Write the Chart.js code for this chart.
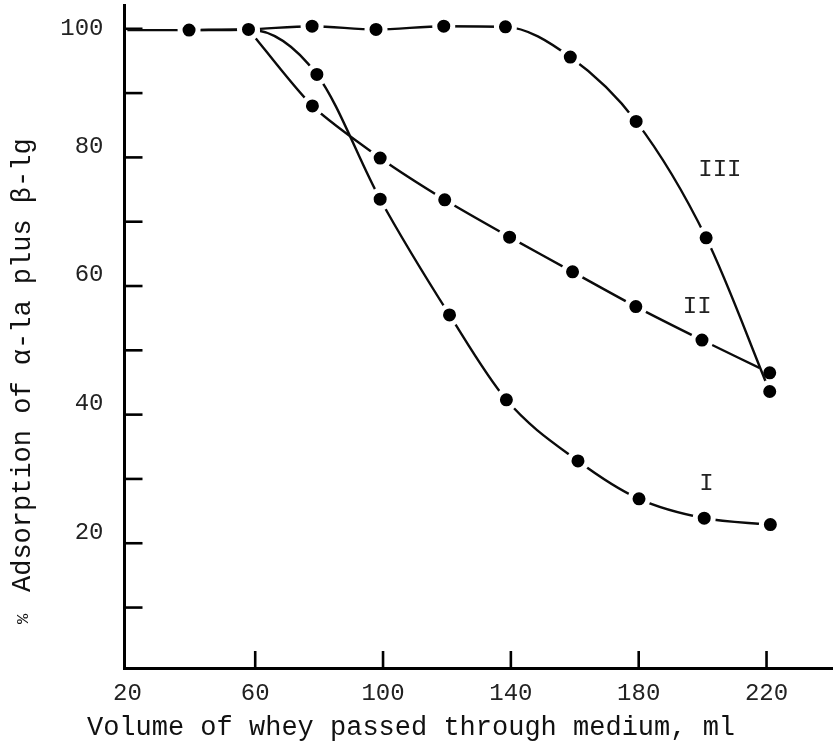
<!DOCTYPE html>
<html>
<head>
<meta charset="utf-8">
<script src="https://cdn.jsdelivr.net/npm/chart.js@4.4.1/dist/chart.umd.min.js"></script>
<style>
html,body{margin:0;padding:0;background:#fff;overflow:hidden}
#wrap{width:833px;height:751px}
</style>
</head>
<body>
<div id="wrap"><canvas id="c" width="833" height="751"></canvas></div>
<script>
// ---- data ----
const volumeI       = [39.3, 57.9, 79.3, 99.1, 120.8, 138.6, 161.0, 180.1, 200.5, 221.2];
const adsorptionI   = [99.8, 99.9, 92.9, 73.5, 55.5, 42.3, 32.8, 26.9, 23.9, 22.9];
const volumeII      = [57.9, 77.9, 99.1, 119.3, 139.6, 159.3, 179.1, 199.8, 221.0];
const adsorptionII  = [99.9, 88.0, 79.9, 73.4, 67.6, 62.2, 56.8, 51.6, 46.5];
const volumeIII     = [20, 39.3, 57.9, 77.8, 97.8, 119.0, 138.3, 158.6, 179.2, 201.1, 221.0];
const adsorptionIII = [99.8, 99.8, 99.9, 100.4, 99.9, 100.4, 100.3, 95.6, 85.6, 67.5, 43.6];

const xTickValues  = [20, 60, 100, 140, 180, 220];
const yTickValues  = [10, 20, 30, 40, 50, 60, 70, 80, 90, 100];
const yLabelValues = [20, 40, 60, 80, 100];

const seriesNames  = ['I', 'II', 'III'];
const seriesLabelX = [201.2, 198.3, 205.4];
const seriesLabelY = [29.3, 56.8, 78.1];

const xTitle = 'Volume of whey passed through medium, ml';
const yTitle = 'Adsorption of \u03b1-la plus \u03b2-lg';
const yTitlePrefix = '%';

// ---- helpers ----
const pts = (xs, ys) => xs.map((v, i) => ({x: v, y: ys[i]}));
const MONO = '"Liberation Mono", "DejaVu Sans Mono", monospace';
const INK = '#0b0b0b';
const R = 9;

const lineStyle = {
  borderColor: INK,
  borderWidth: 2.4,
  pointBackgroundColor: '#000',
  pointBorderColor: '#fff',
  pointBorderWidth: 5,
  fill: false
};

const annotations = {
  id: 'annotations',
  beforeDatasetsDraw(chart) {
    const {ctx, chartArea: a, scales: {x, y}} = chart;
    ctx.save();
    ctx.strokeStyle = '#000';
    ctx.lineWidth = 2.6;
    yTickValues.forEach(v => {
      const p = y.getPixelForValue(v);
      ctx.beginPath(); ctx.moveTo(a.left, p); ctx.lineTo(a.left + 18, p); ctx.stroke();
    });
    xTickValues.forEach(v => {
      if (v <= xTickValues[0]) return;
      const p = x.getPixelForValue(v);
      ctx.beginPath(); ctx.moveTo(p, a.bottom); ctx.lineTo(p, a.bottom - 17); ctx.stroke();
    });
    ctx.restore();
  },
  afterDraw(chart) {
    const {ctx, scales: {x, y}} = chart;
    ctx.save();
    ctx.fillStyle = '#222';
    ctx.font = '24px ' + MONO;
    ctx.textAlign = 'center';
    ctx.textBaseline = 'middle';
    seriesNames.forEach((n, i) => {
      ctx.fillText(n, x.getPixelForValue(seriesLabelX[i]), y.getPixelForValue(seriesLabelY[i]));
    });
    // x axis title
    ctx.fillStyle = '#111';
    ctx.font = '27px ' + MONO;
    ctx.textAlign = 'center';
    ctx.textBaseline = 'alphabetic';
    ctx.fillText(xTitle, 411, 735);
    // y axis title (rotated)
    ctx.save();
    ctx.translate(29.5, 592);
    ctx.rotate(-Math.PI / 2);
    ctx.textAlign = 'left';
    ctx.fillText(yTitle, 0, 0);
    ctx.restore();
    ctx.save();
    ctx.translate(28, 624);
    ctx.rotate(-Math.PI / 2);
    ctx.font = '17px ' + MONO;
    ctx.textAlign = 'left';
    ctx.fillText(yTitlePrefix, 0, 0);
    ctx.restore();
    ctx.restore();
  }
};

new Chart(document.getElementById('c'), {
  type: 'line',
  data: {
    datasets: [
      Object.assign({
        label: seriesNames[2],
        data: pts(volumeIII, adsorptionIII),
        cubicInterpolationMode: 'monotone',
        pointRadius: volumeIII.map((v, i) => i === 0 ? 0 : R)
      }, lineStyle),
      Object.assign({
        label: seriesNames[1],
        data: pts(volumeII, adsorptionII),
        tension: 0.25,
        pointRadius: R
      }, lineStyle),
      Object.assign({
        label: seriesNames[0],
        data: pts(volumeI, adsorptionI),
        cubicInterpolationMode: 'monotone',
        pointRadius: R
      }, lineStyle)
    ]
  },
  options: {
    responsive: false,
    animation: false,
    events: [],
    devicePixelRatio: 1,
    layout: {autoPadding: false, padding: {top: 5, right: 0, bottom: 0, left: 0}},
    plugins: {legend: {display: false}, tooltip: {enabled: false}, title: {display: false}},
    scales: {
      x: {
        type: 'linear',
        min: 19.1,
        max: 240.8,
        afterFit: s => { s.height = 83; s.paddingLeft = 0; s.paddingRight = 0; s.paddingTop = 0; s.paddingBottom = 0; },
        afterBuildTicks: s => { s.ticks = xTickValues.map(v => ({value: v})); },
        grid: {display: false, drawTicks: false},
        border: {display: true, color: '#000', width: 3},
        ticks: {
          autoSkip: false,
          maxRotation: 0,
          padding: 11,
          color: '#222',
          font: {family: MONO, size: 24},
          callback: v => String(v)
        },
        title: {display: false}
      },
      y: {
        type: 'linear',
        min: 0.6,
        max: 103.7,
        afterFit: s => { s.width = 124.5; s.paddingLeft = 0; s.paddingRight = 0; s.paddingTop = 0; s.paddingBottom = 0; },
        afterBuildTicks: s => { s.ticks = yTickValues.map(v => ({value: v})); },
        grid: {display: false, drawTicks: false},
        border: {display: true, color: '#000', width: 3},
        ticks: {
          autoSkip: false,
          padding: 21,
          color: '#222',
          font: {family: MONO, size: 24, lineHeight: 0.92},
          callback: v => yLabelValues.includes(v) ? (v === 100 ? String(v) : [String(v), '']) : ''
        },
        title: {display: false}
      }
    }
  },
  plugins: [annotations]
});
</script>
</body>
</html>
